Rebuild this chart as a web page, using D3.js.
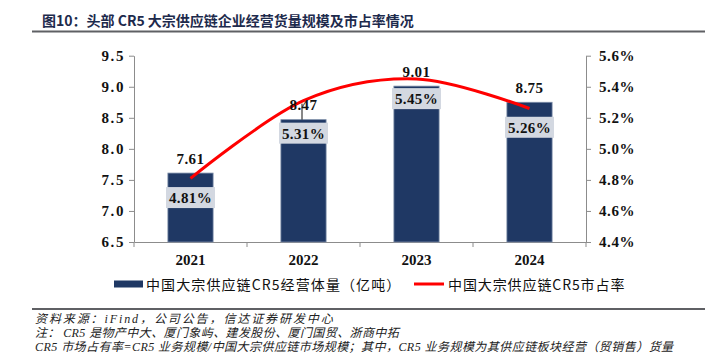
<!DOCTYPE html>
<html><head><meta charset="utf-8">
<script src="https://cdn.jsdelivr.net/npm/d3@7"></script>
<style>
html,body{margin:0;padding:0;background:#fff;}
svg{display:block;}
</style></head>
<body>
<svg id="c" width="716" height="355"></svg>
<script>
// ---- data ----
const years = ["2021", "2022", "2023", "2024"];
const volume = [7.61, 8.47, 9.01, 8.75];          // 亿吨
const share = [4.81, 5.31, 5.45, 5.26];           // %
const leftTicks = [6.5, 7.0, 7.5, 8.0, 8.5, 9.0, 9.5];
const rightTicks = [4.4, 4.6, 4.8, 5.0, 5.2, 5.4, 5.6];
const titleText = "图10：头部 CR5 大宗供应链企业经营货量规模及市占率情况";
const legendBar = "中国大宗供应链CR5经营体量（亿吨）";
const legendLine = "中国大宗供应链CR5市占率";
const footnotes = [
  "资料来源：iFind，公司公告，信达证券研发中心",
  "注： CR5 是物产中大、厦门象屿、建发股份、厦门国贸、浙商中拓",
  "CR5 市场占有率=CR5 业务规模/中国大宗供应链市场规模；其中，CR5 业务规模为其供应链板块经营（贸销售）货量"
];

// ---- layout ----
const L = 134, R = 586, T = 55.7, B = 242;
const boxGap = [14, 3, 2, 14.5];
const leader = [false, true, false, false];
const footSpacing = ["1.9px", "0.4px", "0.45px"];
const navy = "#1f3864", red = "#ff0000", axisCol = "#8c8c8c";
const serif = "'Liberation Serif','Times New Roman',serif";
const cjk = "'Noto Sans CJK SC','Liberation Serif',serif";
const footFont = "'Liberation Serif','Noto Sans CJK SC',serif";

const svg = d3.select("#c");

// title
svg.append("text").attr("x", 42).attr("y", 26)
  .attr("font-family", cjk).attr("font-weight", "bold").attr("font-size", 14)
  .attr("fill", "#1d2a4c").text(titleText);
svg.append("line").attr("x1", 32).attr("x2", 705).attr("y1", 31.5).attr("y2", 31.5)
  .attr("stroke", "#5f6064").attr("stroke-width", 2);

// scales
const xOuter = d3.scaleBand().domain(years).range([L, R]).padding(0);
const x = d3.scaleBand().domain(years).range([L, R]).paddingInner(0.6).paddingOuter(0.3);
const yL = d3.scaleLinear().domain([6.5, 9.5]).range([B, T]);
const yR = d3.scaleLinear().domain([4.4, 5.6]).range([B, T]);

// left axis
const gL = svg.append("g").attr("transform", `translate(${L},0)`)
  .call(d3.axisLeft(yL).tickValues(leftTicks).tickFormat(d3.format(".1f")).tickSize(5).tickSizeOuter(0).tickPadding(4));
gL.selectAll("path,line").attr("stroke", axisCol);
gL.selectAll("text").attr("font-family", serif).attr("font-weight", "bold")
  .attr("font-size", 15).attr("letter-spacing", "1.6px").attr("fill", "#111");

// right axis
const gR = svg.append("g").attr("transform", `translate(${R},0)`)
  .call(d3.axisRight(yR).tickValues(rightTicks).tickFormat(d => d3.format(".1f")(d) + "%").tickSize(5).tickSizeOuter(0).tickPadding(8));
gR.selectAll("path,line").attr("stroke", axisCol);
gR.selectAll("text").attr("font-family", serif).attr("font-weight", "bold")
  .attr("font-size", 15).attr("letter-spacing", "0.6px").attr("fill", "#111");

// bottom axis
const gB = svg.append("g").attr("transform", `translate(0,${B})`)
  .call(d3.axisBottom(xOuter).tickSize(0).tickSizeOuter(0).tickPadding(12));
gB.select("path").attr("stroke", axisCol);
gB.selectAll("text").attr("font-family", serif).attr("font-weight", "bold")
  .attr("font-size", 15).attr("fill", "#111");
const bounds = years.map(d => xOuter(d)).concat([R]);
svg.append("g").selectAll("line").data(bounds).join("line")
  .attr("x1", d => d).attr("x2", d => d).attr("y1", B).attr("y2", B + 5)
  .attr("stroke", axisCol);

// bars
const bars = years.map((y, i) => ({ y, v: volume[i], s: share[i], i }));
svg.append("g").selectAll("rect").data(bars).join("rect")
  .attr("x", d => x(d.y)).attr("width", x.bandwidth())
  .attr("y", d => yL(d.v)).attr("height", d => B - yL(d.v))
  .attr("fill", navy).attr("stroke", "#7d8da8").attr("stroke-width", 0.8);

// share label boxes
const gBox = svg.append("g");
bars.forEach(d => {
  const cx = x(d.y) + x.bandwidth() / 2;
  const top = yL(d.v) + boxGap[d.i];
  gBox.append("rect").attr("x", cx - 24.5).attr("y", top).attr("width", 49).attr("height", 21)
    .attr("fill", "#d3d8e1");
  gBox.append("text").attr("x", cx).attr("y", top + 16).attr("text-anchor", "middle")
    .attr("font-family", serif).attr("font-weight", "bold").attr("font-size", 15)
    .attr("letter-spacing", "0.4px").attr("fill", "#111").text(d3.format(".2f")(d.s) + "%");
});

// line
const line = d3.line()
  .x((d, i) => x(years[i]) + x.bandwidth() / 2)
  .y(d => yR(d))
  .curve(d3.curveCatmullRom.alpha(0));
svg.append("path").datum(share).attr("d", line)
  .attr("fill", "none").attr("stroke", red).attr("stroke-width", 3);

// value labels
const gVal = svg.append("g");
bars.forEach(d => {
  const cx = x(d.y) + x.bandwidth() / 2;
  const ty = yL(d.v) - (leader[d.i] ? 10 : 9);
  if (leader[d.i]) {
    gVal.append("line").attr("x1", cx - 1.5).attr("x2", cx - 1.5).attr("y1", ty - 6).attr("y2", yL(d.v))
      .attr("stroke", "#111").attr("stroke-width", 1);
  }
  gVal.append("text").attr("x", cx).attr("y", ty).attr("text-anchor", "middle")
    .attr("font-family", serif).attr("font-weight", "bold").attr("font-size", 15)
    .attr("letter-spacing", "0.4px").attr("fill", "#111").text(d3.format(".2f")(d.v));
});

// legend
svg.append("rect").attr("x", 114).attr("y", 280.5).attr("width", 29).attr("height", 7).attr("fill", navy);
svg.append("text").attr("x", 146).attr("y", 289.5).attr("font-family", cjk).attr("font-size", 14)
  .attr("letter-spacing", "1.1px").attr("fill", "#111").text(legendBar);
svg.append("line").attr("x1", 414).attr("x2", 444).attr("y1", 284).attr("y2", 284)
  .attr("stroke", red).attr("stroke-width", 3);
svg.append("text").attr("x", 448).attr("y", 289.5).attr("font-family", cjk).attr("font-size", 14)
  .attr("letter-spacing", "0.9px").attr("fill", "#111").text(legendLine);

// footer
svg.append("line").attr("x1", 32).attr("x2", 705).attr("y1", 309).attr("y2", 309)
  .attr("stroke", "#5f6064").attr("stroke-width", 2);
svg.append("g").selectAll("text").data(footnotes).join("text")
  .attr("x", 35).attr("y", (d, i) => 323 + i * 14)
  .attr("font-family", footFont).attr("font-style", "italic").attr("font-size", 12)
  .attr("letter-spacing", (d, i) => footSpacing[i])
  .attr("fill", "#222").text(d => d);
</script>
</body></html>
